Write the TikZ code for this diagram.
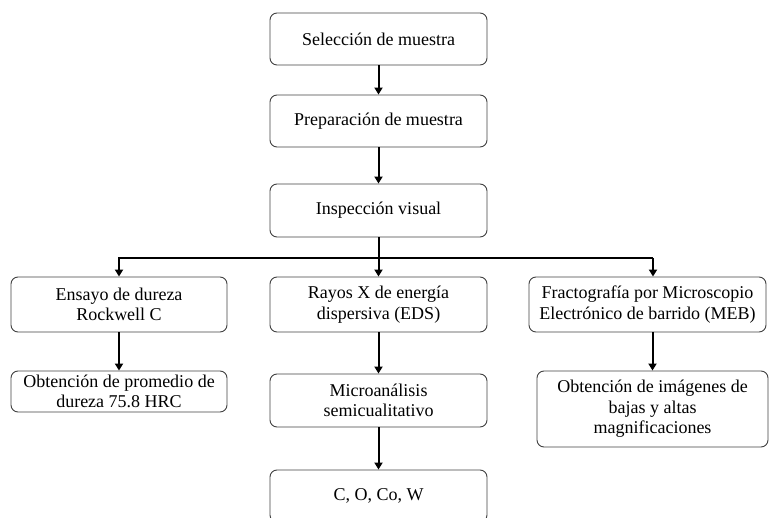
\documentclass[tikz,border=0pt]{standalone}
\usepackage{fontspec}
\setmainfont{Liberation Serif}
\usetikzlibrary{arrows.meta}

\tikzset{
  caja/.style={draw=black!75, line width=0.9pt, rounded corners=7pt, align=center,
    inner sep=2pt, font=\fontsize{18}{20.5}\selectfont},
  flecha/.style={line width=2pt, -{Triangle[width=8pt,length=7pt]}},
  linea/.style={line width=2pt}
}

\begin{document}
\begin{tikzpicture}[x=1pt,y=-1pt]
\useasboundingbox (0,0) rectangle (769,518);

% Etapas iniciales
\node[caja, minimum width=217pt, minimum height=52pt] (sel) at (378.5,39) {Selección de muestra};
\node[caja, minimum width=217pt, minimum height=52pt] (prep) at (378.5,121) {Preparación de muestra};
\node[caja, minimum width=217pt, minimum height=53pt] (insp) at (378.5,210.5) {Inspección visual};

% Rama izquierda
\node[caja, minimum width=216pt, minimum height=55pt] (ens) at (119,304.5) {Ensayo de dureza\\Rockwell C};
\node[caja, minimum width=216pt, minimum height=41pt] (prom) at (119,391.5) {Obtención de promedio de\\dureza 75.8 HRC};

% Rama central
\node[caja, minimum width=217pt, minimum height=55pt] (eds) at (378.5,304.5) {Rayos X de energía\\dispersiva (EDS)};
\node[caja, minimum width=217pt, minimum height=53pt] (micro) at (378.5,400.5) {Microanálisis\\semicualitativo};
\node[caja, minimum width=217pt, minimum height=52pt] (elem) at (378.5,496) {C, O, Co, W};

% Rama derecha
\node[caja, minimum width=237pt, minimum height=55pt] (meb) at (647.5,304.5) {Fractografía por Microscopio\\Electrónico de barrido (MEB)};
\node[caja, minimum width=231pt, minimum height=76pt] (img) at (652.5,409) {Obtención de imágenes de\\bajas y altas\\magnificaciones};

% Conexiones
\coordinate (bus) at (378.5,258);
\coordinate (busder) at (653,258);
\draw[flecha] (sel) -- (prep);
\draw[flecha] (prep) -- (insp);
\draw[linea] (insp) -- (bus);
\draw[flecha] (bus) -| (ens.north);
\draw[flecha] (bus) -- (eds);
\draw[linea] (bus) -- (busder);
\draw[flecha] (busder) -- (busder |- meb.north);
\draw[flecha] (ens) -- (prom);
\draw[flecha] (eds) -- (micro);
\draw[flecha] (micro) -- (elem);
\draw[flecha] (img.north |- meb.south) -- (img.north);
\end{tikzpicture}
\end{document}
